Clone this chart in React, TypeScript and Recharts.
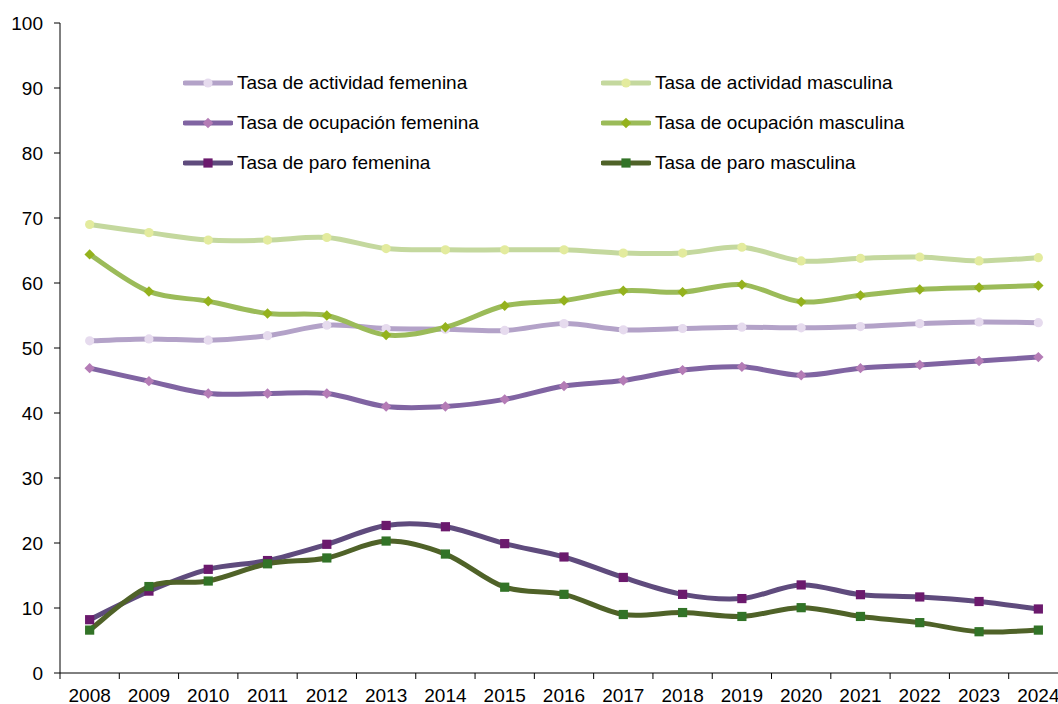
import React from 'react';
import { LineChart, Line, XAxis, YAxis } from 'recharts';

const years = [2008, 2009, 2010, 2011, 2012, 2013, 2014, 2015, 2016, 2017, 2018, 2019, 2020, 2021, 2022, 2023, 2024];
const tasaActividadFemenina = [51.1, 51.4, 51.2, 51.9, 53.5, 53.0, 52.9, 52.7, 53.75, 52.8, 53.0, 53.2, 53.1, 53.3, 53.75, 54.0, 53.9];
const tasaActividadMasculina = [69.0, 67.75, 66.6, 66.6, 67.0, 65.3, 65.1, 65.1, 65.1, 64.6, 64.6, 65.5, 63.4, 63.8, 64.0, 63.4, 63.9];
const tasaOcupacionFemenina = [46.9, 44.9, 43.0, 43.0, 43.0, 41.0, 41.0, 42.1, 44.15, 45.0, 46.6, 47.1, 45.8, 46.9, 47.4, 48.0, 48.6];
const tasaOcupacionMasculina = [64.4, 58.7, 57.2, 55.3, 55.0, 52.0, 53.2, 56.5, 57.3, 58.8, 58.6, 59.75, 57.1, 58.1, 59.0, 59.3, 59.6];
const tasaParoFemenina = [8.2, 12.6, 15.95, 17.3, 19.8, 22.7, 22.5, 19.9, 17.85, 14.7, 12.1, 11.45, 13.55, 12.05, 11.7, 11.0, 9.85];
const tasaParoMasculina = [6.6, 13.3, 14.15, 16.8, 17.7, 20.3, 18.3, 13.2, 12.1, 9.0, 9.3, 8.7, 10.05, 8.7, 7.75, 6.35, 6.6];
const yTicks = [0, 10, 20, 30, 40, 50, 60, 70, 80, 90, 100];

const seriesNames: Record<string, string> = {
  actFem: 'Tasa de actividad femenina',
  actMasc: 'Tasa de actividad masculina',
  ocuFem: 'Tasa de ocupación femenina',
  ocuMasc: 'Tasa de ocupación masculina',
  paroFem: 'Tasa de paro femenina',
  paroMasc: 'Tasa de paro masculina',
};

const data = years.map((year, i) => ({
  year,
  actFem: tasaActividadFemenina[i],
  actMasc: tasaActividadMasculina[i],
  ocuFem: tasaOcupacionFemenina[i],
  ocuMasc: tasaOcupacionMasculina[i],
  paroFem: tasaParoFemenina[i],
  paroMasc: tasaParoMasculina[i],
}));

const xTicks = [...years.flatMap((y) => [y - 0.5, y]), years[years.length - 1] + 0.5];

type Shape = 'circle' | 'diamond' | 'square';
const seriesStyle: Record<string, { line: string; marker: string; shape: Shape }> = {
  actFem: { line: '#b3a2c8', marker: '#e6dbee', shape: 'circle' },
  actMasc: { line: '#c4d89e', marker: '#e3eb9e', shape: 'circle' },
  ocuFem: { line: '#8064a2', marker: '#b47cb6', shape: 'diamond' },
  ocuMasc: { line: '#9bbb59', marker: '#94b21d', shape: 'diamond' },
  paroFem: { line: '#5f4b7d', marker: '#6b1a6d', shape: 'square' },
  paroMasc: { line: '#4f6228', marker: '#327327', shape: 'square' },
};
const order = ['actFem', 'actMasc', 'ocuFem', 'ocuMasc', 'paroFem', 'paroMasc'];

const FONT = '"Liberation Sans", Arial, sans-serif';

function catmullRom(context: any) {
  let pts: number[][] = [];
  return {
    areaStart() {},
    areaEnd() {},
    lineStart() {
      pts = [];
    },
    lineEnd() {
      const n = pts.length;
      if (!n) return;
      context.moveTo(pts[0][0], pts[0][1]);
      for (let i = 0; i < n - 1; i++) {
        const p0 = pts[i - 1] || pts[i];
        const p1 = pts[i];
        const p2 = pts[i + 1];
        const p3 = pts[i + 2] || p2;
        context.bezierCurveTo(
          p1[0] + (p2[0] - p0[0]) / 6,
          p1[1] + (p2[1] - p0[1]) / 6,
          p2[0] - (p3[0] - p1[0]) / 6,
          p2[1] - (p3[1] - p1[1]) / 6,
          p2[0],
          p2[1]
        );
      }
    },
    point(x: number, y: number) {
      pts.push([+x, +y]);
    },
  };
}

function Marker({ cx, cy, shape, fill }: { cx: number; cy: number; shape: Shape; fill: string }) {
  if (shape === 'circle') return <circle cx={cx} cy={cy} r={4.6} fill={fill} />;
  if (shape === 'diamond') {
    const s = 5.2;
    return <polygon points={`${cx},${cy - s} ${cx + s},${cy} ${cx},${cy + s} ${cx - s},${cy}`} fill={fill} />;
  }
  const h = 4.6;
  return <rect x={cx - h} y={cy - h} width={2 * h} height={2 * h} fill={fill} />;
}

const makeDot = (key: string) => (props: any) => {
  const st = seriesStyle[key];
  if (props.cx == null || props.cy == null) return <g key={`${key}-${props.index}`} />;
  return (
    <g key={`${key}-${props.index}`}>
      <Marker cx={props.cx} cy={props.cy} shape={st.shape} fill={st.marker} />
    </g>
  );
};

const XTick = (props: any) => {
  const { x, y, payload } = props;
  const v = payload.value;
  if (Number.isInteger(v)) {
    return (
      <text x={x} y={y + 23} textAnchor="middle" fill="#000" fontSize={19} fontFamily={FONT}>
        {v}
      </text>
    );
  }
  return <line x1={x} x2={x} y1={y - 6} y2={y} stroke="#000" strokeWidth={1} />;
};

function LegendBlock() {
  return (
    <div
      style={{
        position: 'absolute',
        top: 63,
        left: 183,
        width: 840,
        display: 'flex',
        flexWrap: 'wrap',
        fontFamily: FONT,
        fontSize: 19,
        color: '#000',
      }}
    >
      {order.map((key) => {
        const st = seriesStyle[key];
        return (
          <div key={key} style={{ width: 418, height: 40, display: 'flex', alignItems: 'center' }}>
            <svg width={50} height={14} style={{ marginRight: 4, flex: 'none' }}>
              <line x1={2} x2={48} y1={7} y2={7} stroke={st.line} strokeWidth={5} strokeLinecap="round" />
              <Marker cx={25} cy={7} shape={st.shape} fill={st.marker} />
            </svg>
            <span style={{ whiteSpace: 'nowrap' }}>{seriesNames[key]}</span>
          </div>
        );
      })}
    </div>
  );
}

export default function App() {
  return (
    <div style={{ position: 'fixed', left: 0, top: 0, width: 1058, height: 704, overflow: 'hidden', background: '#fff' }}>
      <LineChart width={1070} height={704} data={data} margin={{ top: 23, right: 2, bottom: 0, left: 0 }}>
        <XAxis
          dataKey="year"
          type="number"
          domain={[2007.5, 2024.5]}
          ticks={xTicks}
          interval={0}
          tick={<XTick />}
          tickLine={false}
          tickSize={6}
          tickMargin={0}
          height={31}
          axisLine={{ stroke: '#000', strokeWidth: 1 }}
        />
        <YAxis
          type="number"
          domain={[0, 100]}
          ticks={yTicks}
          interval={0}
          width={60}
          tickSize={6}
          tickMargin={11}
          tick={{ fill: '#000', fontSize: 19, fontFamily: FONT }}
          tickLine={{ stroke: '#000' }}
          axisLine={{ stroke: '#000', strokeWidth: 1 }}
        />
        {order.map((key) => (
          <Line
            key={key}
            dataKey={key}
            name={seriesNames[key]}
            type={catmullRom as any}
            stroke={seriesStyle[key].line}
            strokeWidth={5}
            dot={makeDot(key)}
            activeDot={false}
            isAnimationActive={false}
          />
        ))}
      </LineChart>
      <LegendBlock />
    </div>
  );
}
